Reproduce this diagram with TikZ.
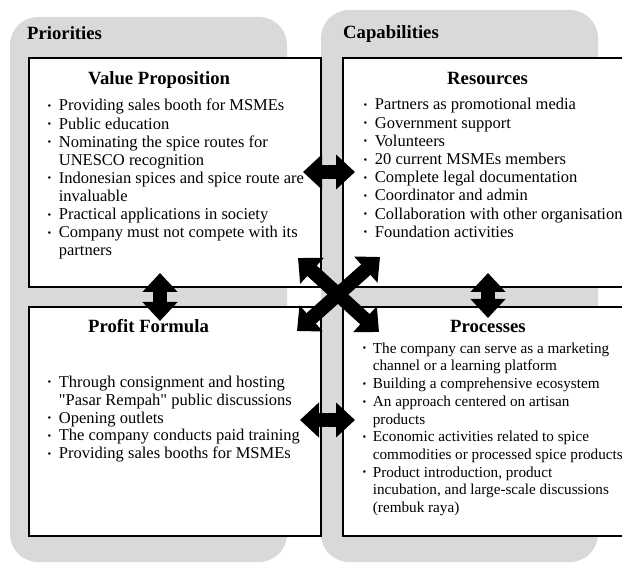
\documentclass[tikz,border=0pt]{standalone}
\usepackage{fontspec}
\setmainfont{Liberation Serif}
\usetikzlibrary{arrows.meta}
\definecolor{panelgray}{RGB}{217,217,217}
% small list bullet
\newcommand{\bul}{\raisebox{0.2ex}{\fontsize{10.5}{10.5}\selectfont\textbullet}}

\begin{document}
\begin{tikzpicture}[x=1pt,y=-1pt,
  panel/.style={fill=panelgray, draw=none, rounded corners=28pt},
  box/.style={draw=black, line width=2.2pt, fill=white, inner sep=0pt, anchor=north west},
  heading/.style={font=\fontsize{18.7}{20}\selectfont\bfseries, anchor=base west, inner sep=0pt},
  itemlist/.style={anchor=base west, inner sep=0pt},
  fat/.style={line width=14pt, {Triangle[length=19pt,width=34pt]}-{Triangle[length=19pt,width=34pt]}}
]
\useasboundingbox (0,0) rectangle (622,564);
\clip (0,0) rectangle (622,564);

% column backgrounds
\fill[panel] (10,17) rectangle (287,562);
\fill[panel] (321,10) rectangle (598,562);

\node[heading] (prio) at (27,40) {Priorities};
\node[heading] (capa) at (343,39) {Capabilities};

% the four blocks
\node[box, minimum width=292pt, minimum height=229pt] (vp)   at (28,57)  {};
\node[box, minimum width=300pt, minimum height=229pt] (res)  at (342,57) {};
\node[box, minimum width=292pt, minimum height=229pt] (pf)   at (28,306) {};
\node[box, minimum width=300pt, minimum height=229pt] (proc) at (342,306) {};

% block titles
\node[heading] (vpt)   at (88,85)   {Value Proposition};
\node[heading] (rest)  at (447,85)  {Resources};
\node[heading] (pft)   at (88,333)  {Profit Formula};
\node[heading] (proct) at (450,333) {Processes};

% block contents
\node[itemlist, font=\fontsize{16.5}{18.1}\selectfont] (vpl) at (47.5,111) {%
\begin{tabular}[t]{@{}l@{\hspace{7.5pt}}l@{}}
\bul & Providing sales booth for MSMEs\\
\bul & Public education\\
\bul & Nominating the spice routes for\\
     & UNESCO recognition\\
\bul & Indonesian spices and spice route are\\
     & invaluable\\
\bul & Practical applications in society\\
\bul & Company must not compete with its\\
     & partners
\end{tabular}};

\node[itemlist, font=\fontsize{16.5}{18.2}\selectfont] (resl) at (363.5,110) {%
\begin{tabular}[t]{@{}l@{\hspace{7.5pt}}l@{}}
\bul & Partners as promotional media\\
\bul & Government support\\
\bul & Volunteers\\
\bul & 20 current MSMEs members\\
\bul & Complete legal documentation\\
\bul & Coordinator and admin\\
\bul & Collaboration with other organisations\\
\bul & Foundation activities
\end{tabular}};

\node[itemlist, font=\fontsize{16.5}{17.9}\selectfont] (pfl) at (47.5,387.3) {%
\begin{tabular}[t]{@{}l@{\hspace{7.5pt}}l@{}}
\bul & Through consignment and hosting\\
     & \textquotedbl Pasar Rempah\textquotedbl{} public discussions\\
\bul & Opening outlets\\
\bul & The company conducts paid training\\
\bul & Providing sales booths for MSMEs
\end{tabular}};

\node[itemlist, font=\fontsize{15.2}{17.7}\selectfont] (procl) at (362.5,353.3) {%
\begin{tabular}[t]{@{}l@{\hspace{6.5pt}}l@{}}
\bul & The company can serve as a marketing\\
     & channel or a learning platform\\
\bul & Building a comprehensive ecosystem\\
\bul & An approach centered on artisan\\
     & products\\
\bul & Economic activities related to spice\\
     & commodities or processed spice products\\
\bul & Product introduction, product\\
     & incubation, and large-scale discussions\\
     & (rembuk raya)
\end{tabular}};

% connector end points
\coordinate (vpE)   at (303,172);
\coordinate (resW)  at (355,172);
\coordinate (pfE)   at (300,420);
\coordinate (procW) at (355,420);
\coordinate (vpS)   at (160,273);
\coordinate (pfN)   at (160,321);
\coordinate (resS)  at (488,273);
\coordinate (procN) at (488,318);
\coordinate (vpSE)  at (298,258);
\coordinate (procNW) at (379,332);
\coordinate (resSW) at (380,257);
\coordinate (pfNE)  at (297,331);

% block arrows
\draw[fat] (vpE) -- (resW);
\draw[fat] (pfE) -- (procW);
\draw[fat] (vpS) -- (pfN);
\draw[fat] (resS) -- (procN);
\draw[fat] (vpSE) -- (procNW);
\draw[fat] (resSW) -- (pfNE);
\end{tikzpicture}
\end{document}
